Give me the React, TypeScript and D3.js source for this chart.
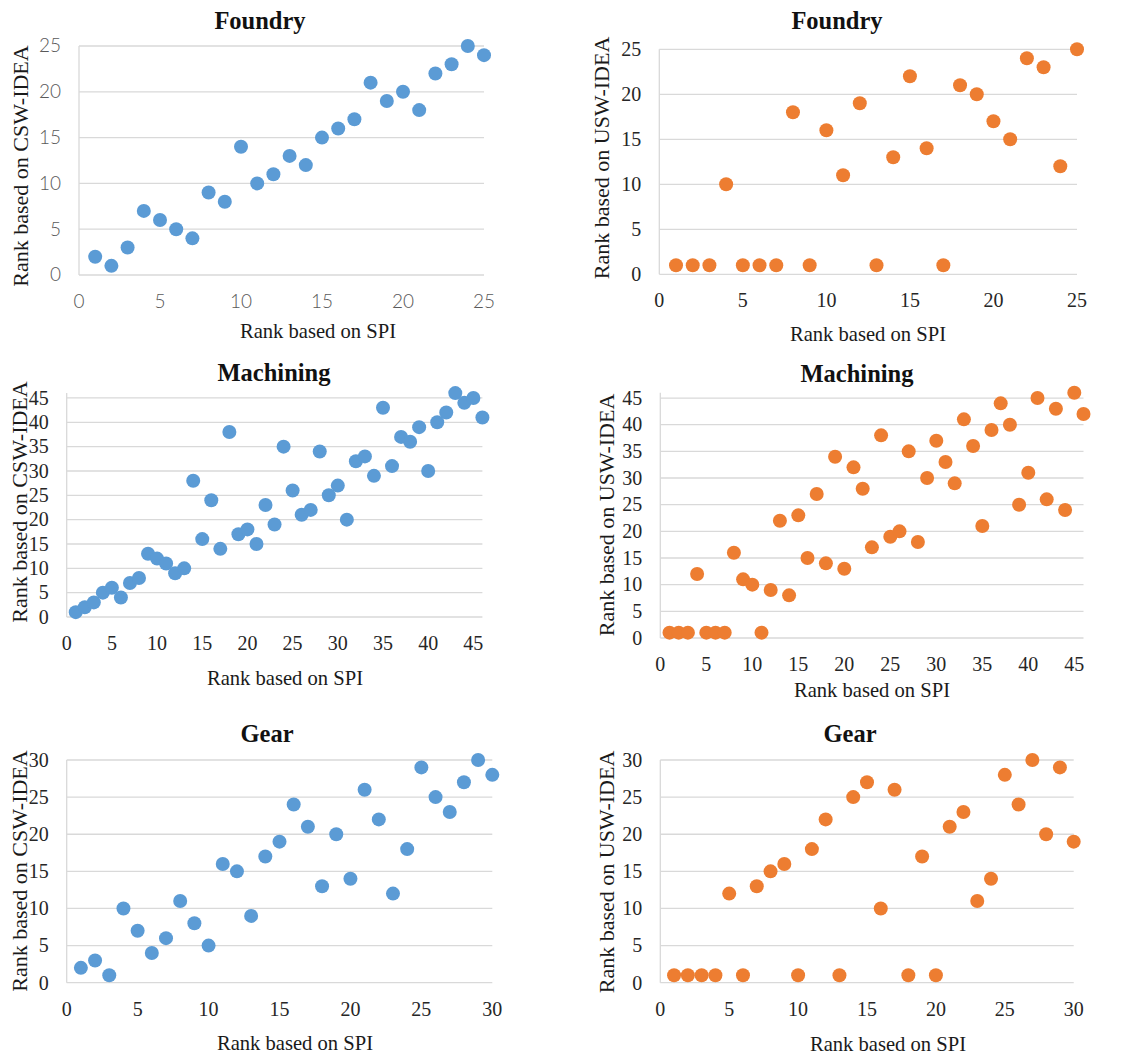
import React from 'react';
import * as d3 from 'd3';

// ranks based on SPI (x) and ranks from the two IDEA models (y)
const foundrySpi = [1, 2, 3, 4, 5, 6, 7, 8, 9, 10, 11, 12, 13, 14, 15, 16, 17, 18, 19, 20, 21, 22, 23, 24, 25];
const foundryCsw = [2, 1, 3, 7, 6, 5, 4, 9, 8, 14, 10, 11, 13, 12, 15, 16, 17, 21, 19, 20, 18, 22, 23, 25, 24];
const foundryUsw = [1, 1, 1, 10, 1, 1, 1, 18, 1, 16, 11, 19, 1, 13, 22, 14, 1, 21, 20, 17, 15, 24, 23, 12, 25];

const machiningSpi = [1, 2, 3, 4, 5, 6, 7, 8, 9, 10, 11, 12, 13, 14, 15, 16, 17, 18, 19, 20, 21, 22, 23,
  24, 25, 26, 27, 28, 29, 30, 31, 32, 33, 34, 35, 36, 37, 38, 39, 40, 41, 42, 43, 44, 45, 46];
const machiningCsw = [1, 2, 3, 5, 6, 4, 7, 8, 13, 12, 11, 9, 10, 28, 16, 24, 14, 38, 17, 18, 15, 23, 19,
  35, 26, 21, 22, 34, 25, 27, 20, 32, 33, 29, 43, 31, 37, 36, 39, 30, 40, 42, 46, 44, 45, 41];
const machiningUsw = [1, 1, 1, 12, 1, 1, 1, 16, 11, 10, 1, 9, 22, 8, 23, 15, 27, 14, 34, 13, 32, 28, 17,
  38, 19, 20, 35, 18, 30, 37, 33, 29, 41, 36, 21, 39, 44, 40, 25, 31, 45, 26, 43, 24, 46, 42];

const gearSpi = [1, 2, 3, 4, 5, 6, 7, 8, 9, 10, 11, 12, 13, 14, 15, 16, 17, 18, 19, 20, 21, 22, 23, 24, 25, 26, 27, 28, 29, 30];
const gearCsw = [2, 3, 1, 10, 7, 4, 6, 11, 8, 5, 16, 15, 9, 17, 19, 24, 21, 13, 20, 14, 26, 22, 12, 18, 29, 25, 23, 27, 30, 28];
const gearUsw = [1, 1, 1, 1, 12, 1, 13, 15, 16, 1, 18, 22, 1, 25, 27, 10, 26, 1, 17, 1, 21, 23, 11, 14, 28, 24, 30, 20, 29, 19];

const foundryTicks = [0, 5, 10, 15, 20, 25];
const machiningTicks = [0, 5, 10, 15, 20, 25, 30, 35, 40, 45];
const gearTicks = [0, 5, 10, 15, 20, 25, 30];

const xTitle = 'Rank based on SPI';
const cswTitle = 'Rank based on CSW-IDEA';
const uswTitle = 'Rank based on USW-IDEA';

const BLUE = '#5B9BD5';
const ORANGE = '#ED7D31';
const SERIF = '"Liberation Serif", "Times New Roman", serif';

const panels = [
  { title: 'Foundry', x: foundrySpi, y: foundryCsw, ticks: foundryTicks, max: 25, color: BLUE, yTitle: cswTitle,
    box: [79, 484, 46, 275], titleAt: [260, 29], yTitleAt: [28, 166], xTitleAt: [318, 338], sansTicks: true },
  { title: 'Foundry', x: foundrySpi, y: foundryUsw, ticks: foundryTicks, max: 25, color: ORANGE, yTitle: uswTitle,
    box: [659.3, 1077, 49.3, 274.3], titleAt: [837, 29], yTitleAt: [609, 158], xTitleAt: [868, 341] },
  { title: 'Machining', x: machiningSpi, y: machiningCsw, ticks: machiningTicks, max: 46, color: BLUE, yTitle: cswTitle,
    box: [66.7, 482.4, 393.1, 617], titleAt: [274, 381], yTitleAt: [27, 502], xTitleAt: [285, 685] },
  { title: 'Machining', x: machiningSpi, y: machiningUsw, ticks: machiningTicks, max: 46, color: ORANGE, yTitle: uswTitle,
    box: [660.3, 1083.5, 392.7, 638], titleAt: [857, 382], yTitleAt: [614, 515], xTitleAt: [872, 697] },
  { title: 'Gear', x: gearSpi, y: gearCsw, ticks: gearTicks, max: 30, color: BLUE, yTitle: cswTitle,
    box: [66.7, 492.3, 760, 982.7], titleAt: [267, 742], yTitleAt: [27, 871], xTitleAt: [295, 1050] },
  { title: 'Gear', x: gearSpi, y: gearUsw, ticks: gearTicks, max: 30, color: ORANGE, yTitle: uswTitle,
    box: [660.3, 1073.7, 760, 982.7], titleAt: [850, 742], yTitleAt: [614, 872], xTitleAt: [888, 1051] },
];

function Panel({ p }) {
  const [left, right, top, bottom] = p.box;
  const xScale = d3.scaleLinear().domain([0, p.max]).range([left, right]);
  const yScale = d3.scaleLinear().domain([0, p.max]).range([bottom, top]);

  const tickFont = p.sansTicks ? 'Lato, "Open Sans", sans-serif' : SERIF;
  const tickColor = p.sansTicks ? '#595959' : '#262626';
  const tickSize = p.sansTicks ? 19 : 20;
  const tickWeight = p.sansTicks ? 300 : 400;

  return (
    <g>
      {/* grid lines */}
      {p.ticks.filter(t => t > 0).map(t => (
        <line key={'g' + t} x1={left} x2={right} y1={yScale(t)} y2={yScale(t)} stroke="#d9d9d9" strokeWidth={1.3} />
      ))}
      {/* axis lines */}
      <line x1={left} x2={left} y1={bottom} y2={top} stroke="#d9d9d9" strokeWidth={1.3} />
      <line x1={left} x2={right} y1={bottom} y2={bottom} stroke="#d9d9d9" strokeWidth={1.3} />

      {/* y tick labels */}
      {p.ticks.map(t => (
        <text key={'y' + t} x={left - 18} y={yScale(t)} dy="0.34em" textAnchor="end"
          fontFamily={tickFont} fontSize={tickSize} fontWeight={tickWeight} fill={tickColor}>{t}</text>
      ))}
      {/* x tick labels */}
      {p.ticks.map(t => (
        <text key={'x' + t} x={xScale(t)} y={bottom + 33} textAnchor="middle"
          fontFamily={tickFont} fontSize={tickSize} fontWeight={tickWeight} fill={tickColor}>{t}</text>
      ))}

      {/* points */}
      {p.x.map((xv, i) => (
        <circle key={'c' + i} cx={xScale(xv)} cy={yScale(p.y[i])} r={7} fill={p.color} />
      ))}

      {/* titles */}
      <text x={p.titleAt[0]} y={p.titleAt[1]} textAnchor="middle" fontFamily={SERIF}
        fontSize={24.5} fontWeight="bold" fill="#111">{p.title}</text>
      <text x={p.xTitleAt[0]} y={p.xTitleAt[1]} textAnchor="middle" fontFamily={SERIF}
        fontSize={20.6} fill="#1a1a1a">{xTitle}</text>
      <text transform={`translate(${p.yTitleAt[0]}, ${p.yTitleAt[1]}) rotate(-90)`} textAnchor="middle"
        fontFamily={SERIF} fontSize={22} fill="#1a1a1a">{p.yTitle}</text>
    </g>
  );
}

export default function App() {
  return (
    <svg width={1132} height={1058} style={{ position: 'absolute', left: 0, top: 0, background: '#fff' }}>
      <rect width={1132} height={1058} fill="#fff" />
      {panels.map((p, i) => <Panel key={i} p={p} />)}
    </svg>
  );
}
